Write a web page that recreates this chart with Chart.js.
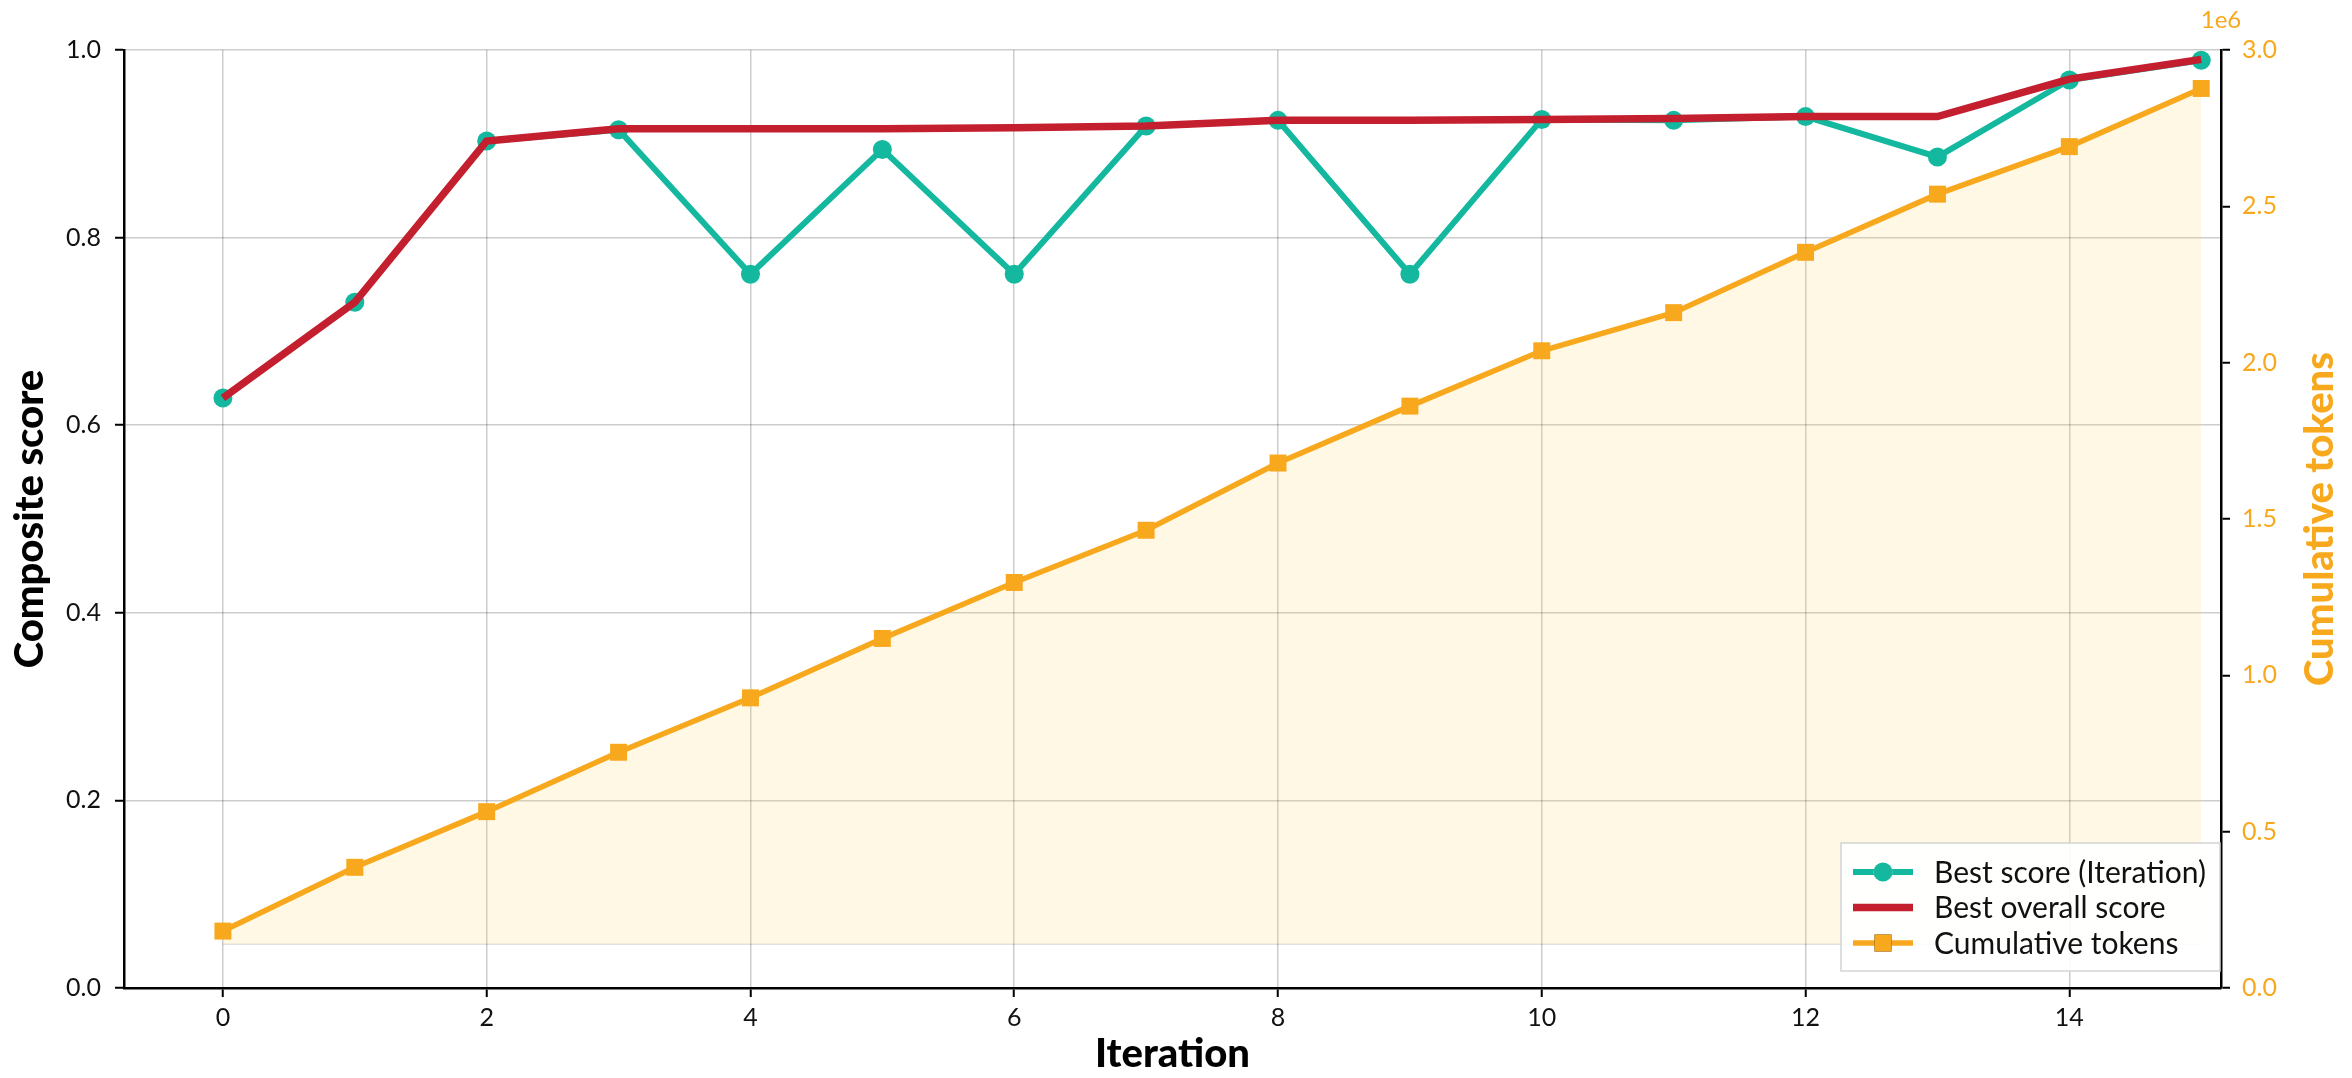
<!DOCTYPE html>
<html>
<head>
<meta charset="utf-8">
<script src="https://cdn.jsdelivr.net/npm/chart.js@4.4.0/dist/chart.umd.min.js"></script>
<style>
  html, body { margin: 0; padding: 0; background: #fff; }
</style>
</head>
<body>
<canvas id="chart" width="2352" height="1078"></canvas>
<script>
// values
const iterations = [0, 1, 2, 3, 4, 5, 6, 7, 8, 9, 10, 11, 12, 13, 14, 15];
const bestScore = [0.629, 0.731, 0.903, 0.915, 0.761, 0.894, 0.761, 0.919,
  0.925, 0.761, 0.926, 0.925, 0.929, 0.886, 0.968, 0.989];
const bestOverall = [0.629, 0.731, 0.903, 0.916, 0.916, 0.916, 0.917, 0.919,
  0.925, 0.925, 0.926, 0.927, 0.929, 0.929, 0.969, 0.990];
const cumulativeTokens = [182000, 386000, 564000, 754000, 928000, 1118000,
  1297000, 1464000, 1679000, 1861000, 2038000, 2160000, 2353000, 2539000,
  2691000, 2877000];
const tokenFloor = 140000;

const xTicks = [0, 2, 4, 6, 8, 10, 12, 14];
const scoreTicks = [0, 0.2, 0.4, 0.6, 0.8, 1.0];
const tokenTicks = [0, 500000, 1000000, 1500000, 2000000, 2500000, 3000000];

const TEAL = "#13b89f";
const RED = "#c41f2e";
const ORANGE = "#f8a81c";
const FONT = "Lato, 'Noto Sans', sans-serif";

Chart.defaults.font.family = FONT;
Chart.defaults.color = "#111";

const pts = (ys) => iterations.map((x, i) => ({ x: x, y: ys[i] }));

// custom legend, lower right inside the plot
const legendBox = {
  id: "legendBox",
  afterDraw(chart) {
    const ctx = chart.ctx;
    const a = chart.chartArea;
    const items = chart.data.datasets.filter((d) => d.inLegend);
    const w = 379, h = 128;
    const x0 = a.right - w - 1, y0 = a.bottom - h - 17;
    ctx.save();
    ctx.fillStyle = "rgba(255,255,255,0.9)";
    ctx.fillRect(x0, y0, w, h);
    ctx.strokeStyle = "#d4d4d4";
    ctx.lineWidth = 1.5;
    ctx.strokeRect(x0, y0, w, h);
    ctx.font = "30px " + FONT;
    ctx.textBaseline = "middle";
    items.forEach((d, i) => {
      const cy = y0 + 29 + i * 35.5;
      ctx.strokeStyle = d.borderColor;
      ctx.lineWidth = d.borderWidth;
      ctx.beginPath();
      ctx.moveTo(x0 + 12, cy);
      ctx.lineTo(x0 + 72, cy);
      ctx.stroke();
      if (d.pointRadius > 0) {
        Chart.helpers.drawPoint(ctx, {
          pointStyle: d.pointStyle, radius: d.pointRadius, borderWidth: 0,
        }, x0 + 42, cy);
        ctx.fillStyle = d.pointBackgroundColor;
        ctx.fill();
      }
      ctx.fillStyle = "#111";
      ctx.fillText(d.label, x0 + 93, cy + 1);
    });
    ctx.restore();
  },
};

// right axis title (reads bottom to top) and the 1e6 offset text
const rightAxisText = {
  id: "rightAxisText",
  afterDraw(chart) {
    const ctx = chart.ctx;
    const a = chart.chartArea;
    ctx.save();
    ctx.fillStyle = ORANGE;
    ctx.font = "24px " + FONT;
    ctx.textAlign = "center";
    ctx.textBaseline = "middle";
    ctx.fillText("1e6", a.right, a.top - 30);
    ctx.translate(chart.width - 32, (a.top + a.bottom) / 2);
    ctx.rotate(-Math.PI / 2);
    ctx.font = "900 40px " + FONT;
    ctx.fillText("Cumulative tokens", 0, 0);
    ctx.restore();
  },
};

const gridStyle = {
  color: "rgba(0,0,0,0.2)",
  lineWidth: 1.5,
  tickColor: "#000",
  tickLength: 9,
  tickWidth: 2,
};
const borderStyle = { color: "#000", width: 2.5 };

new Chart(document.getElementById("chart"), {
  type: "line",
  data: {
    datasets: [
      {
        label: "Best score (Iteration)",
        inLegend: true,
        data: pts(bestScore),
        yAxisID: "y",
        borderColor: TEAL,
        borderWidth: 6,
        pointStyle: "circle",
        pointRadius: 9.5,
        pointBackgroundColor: TEAL,
        pointBorderWidth: 0,
        fill: false,
        order: 3,
      },
      {
        label: "Best overall score",
        inLegend: true,
        data: pts(bestOverall),
        yAxisID: "y",
        borderColor: RED,
        borderWidth: 7.5,
        pointRadius: 0,
        fill: false,
        order: 2,
      },
      {
        label: "Cumulative tokens",
        inLegend: true,
        data: pts(cumulativeTokens),
        yAxisID: "y2",
        borderColor: ORANGE,
        borderWidth: 5.5,
        pointStyle: "rect",
        pointRadius: 12,
        pointBackgroundColor: ORANGE,
        pointBorderWidth: 0,
        backgroundColor: "rgba(250,210,80,0.15)",
        fill: { value: tokenFloor },
        order: 1,
      },
      {
        label: "fill edge",
        data: pts(iterations.map(() => tokenFloor)),
        yAxisID: "y2",
        borderColor: "rgba(0,0,0,0.12)",
        borderWidth: 1.5,
        pointRadius: 0,
        fill: false,
        order: 4,
      },
    ],
  },
  options: {
    responsive: false,
    devicePixelRatio: 1,
    animation: false,
    layout: { padding: { top: 50, left: 0, right: 0, bottom: 0 } },
    plugins: {
      legend: { display: false },
      tooltip: { enabled: false },
    },
    scales: {
      x: {
        type: "linear",
        position: "bottom",
        min: -0.75,
        max: 15.15,
        afterBuildTicks: (s) => { s.ticks = xTicks.map((v) => ({ value: v })); },
        afterFit: (s) => { s.height = 90; },
        ticks: { font: { size: 25 }, color: "#111", padding: 6 },
        grid: gridStyle,
        border: borderStyle,
        title: {
          display: true,
          text: "Iteration",
          font: { size: 40, weight: "900" },
          color: "#000",
          padding: { top: 0, bottom: 0 },
        },
      },
      y: {
        position: "left",
        min: 0,
        max: 1,
        afterBuildTicks: (s) => { s.ticks = scoreTicks.map((v) => ({ value: v })); },
        afterFit: (s) => { s.width = 124; },
        ticks: { font: { size: 25 }, color: "#111", padding: 14, callback: (v) => v.toFixed(1) },
        grid: gridStyle,
        border: borderStyle,
        title: {
          display: true,
          text: "Composite score",
          font: { size: 40, weight: "900" },
          color: "#000",
          padding: { top: 6, bottom: 0 },
        },
      },
      y2: {
        position: "right",
        min: 0,
        max: 3000000,
        afterBuildTicks: (s) => { s.ticks = tokenTicks.map((v) => ({ value: v })); },
        afterFit: (s) => { s.width = 131; },
        ticks: { font: { size: 25 }, color: ORANGE, padding: 12, callback: (v) => (v / 1e6).toFixed(1) },
        grid: Object.assign({}, gridStyle, { drawOnChartArea: false }),
        border: borderStyle,
      },
    },
  },
  plugins: [legendBox, rightAxisText],
});
</script>
</body>
</html>
